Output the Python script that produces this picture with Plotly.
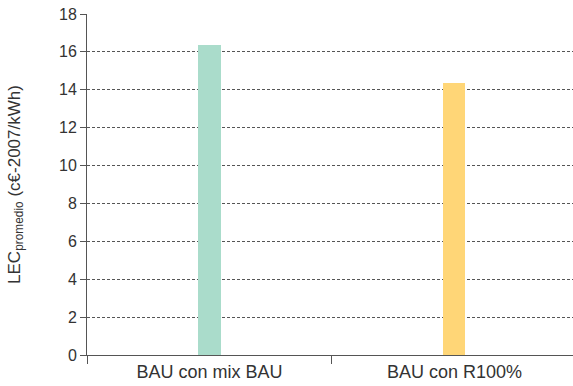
import plotly.graph_objects as go

categories = ["BAU con mix BAU", "BAU con R100%"]
values = [16.37, 14.36]
colors = ["#AADCCB", "#FFD677"]
y_ticks = [0, 2, 4, 6, 8, 10, 12, 14, 16, 18]

fig = go.Figure(go.Bar(x=categories, y=values, marker_color=colors, marker_line_width=0, width=0.09))

fam = "Liberation Sans, Arial, sans-serif"
fig.update_layout(
    width=573, height=386,
    margin=dict(l=87, r=0, t=14, b=31, autoexpand=False),
    plot_bgcolor="white", paper_bgcolor="white",
    font=dict(family=fam, size=15, color="#333333"), showlegend=False, bargap=0,
)
fig.update_xaxes(
    range=[-0.5, 1.484], showline=True, linecolor="#555555", linewidth=1,
    ticks="outside", tickson="boundaries", ticklen=8, tickcolor="#555555",
    showgrid=False, tickfont=dict(family=fam, size=18, color="#333333"), automargin=False,
)
fig.update_yaxes(
    range=[0, 18], tickvals=y_ticks, showline=True, linecolor="#555555", linewidth=1,
    ticks="outside", ticklen=6, tickcolor="#555555",
    showgrid=True, gridcolor="#555555", griddash="3px,2px", gridwidth=1,
    zeroline=False, tickfont=dict(family=fam, size=16, color="#333333"), automargin=False,
    title=dict(text="LEC<sub>promedio</sub> (c€-2007/kWh)", font=dict(family=fam, size=17, color="#333333"), standoff=34),
)
fig.write_html("out.html", config={"displayModeBar": False},
               post_script="document.body.style.margin='0';document.body.style.overflow='hidden';")
